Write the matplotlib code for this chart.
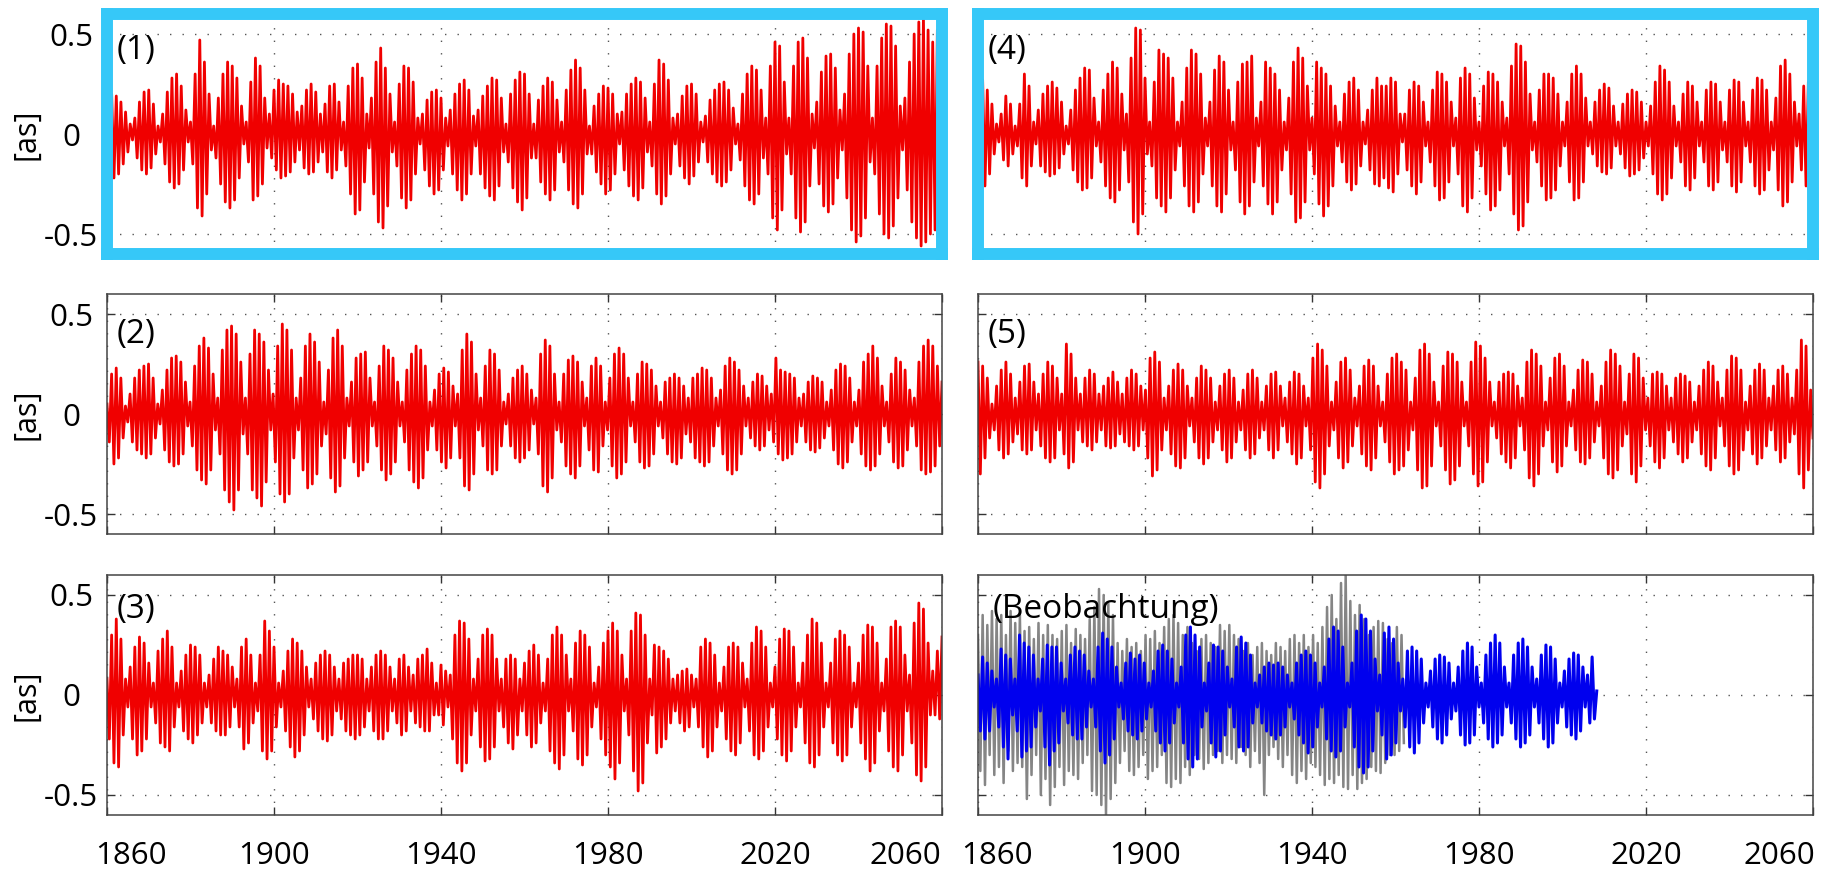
import numpy as np
import matplotlib.pyplot as plt
from matplotlib.transforms import ScaledTranslation

plt.rcParams['font.family'] = ['Open Sans', 'DejaVu Sans']

# successive extremes (peak / trough) of each series, in 0.01 arcsec
sig1 = [25, -21, 20, -22, 19, -20, 16, -15, 11, -9, 5,
        -3, 8, -12, 16, -18, 21, -20, 22, -17, 15, -10, 4,
        -4, 10, -15, 21, -24, 28, -27, 30, -25, 24, -18, 12, -4,
        6, -15, 30, -37, 47, -41, 36, -30, 20, -8,
        4, -12, 18, -25, 30, -34, 36, -37, 34, -33, 28, -22, 14, -5,
        6, -14, 26, -33, 38, -31, 34, -25, 18, -7,
        10, -12, 22, -18, 27, -22, 25, -21, 24, -19, 20, -14, 11,
        -8, 14, -17, 22, -20, 25, -19, 21, -14, 10,
        -9, 15, -19, 24, -22, 25, -18, 16, -8,
        6, -16, 24, -30, 33, -40, 35, -38, 28, -24, 10,
        -7, 18, -30, 36, -44, 43, -47, 33, -36, 20, -9,
        6, -16, 25, -32, 34, -37, 33, -33, 26, -20, 8,
        -5, 10, -18, 17, -26, 21, -30, 22, -28, 18, -18, 8,
        -6, 12, -20, 20, -28, 25, -33, 27, -30, 22, -20, 9,
        -6, 12, -20, 19, -27, 24, -31, 28, -33, 27, -26, 18, -9,
        5, -14, 20, -27, 27, -34, 31, -38, 30, -32, 20, -12,
        5, -12, 17, -24, 24, -30, 28, -33, 26, -28, 17, -9,
        6, -14, 22, -28, 32, -35, 37, -37, 33, -30, 22, -10,
        4, -10, 14, -19, 20, -25, 24, -30, 23, -28, 20, -20, 10,
        -5, 11, -18, 20, -26, 25, -31, 28, -33, 26, -27, 18, -9,
        6, -16, 25, -30, 37, -35, 35, -31, 27, -20, 8,
        -5, 10, -16, 19, -22, 24, -25, 25, -21, 20, -14, 6,
        -4, 9, -14, 17, -20, 22, -24, 25, -26, 26, -24, 22, -18, 13, -5,
        5, -13, 20, -26, 30, -33, 34, -35, 32, -30, 22, -12,
        8, -20, 34, -42, 46, -48, 44, -38, 26, -10,
        8, -20, 34, -42, 46, -49, 48, -44, 38, -26, 10,
        -7, 16, -25, 31, -36, 39, -39, 40, -35, 33, -22, 12,
        -8, 20, -32, 40, -48, 50, -54, 53, -51, 51, -42, 34, -14,
        8, -20, 34, -40, 48, -50, 55, -52, 54, -46, 44, -32, 14,
        -8, 18, -28, 36, -44, 50, -52, 56, -56, 58, -54, 52, -50, 46, -48, 52, -48, 50]

sig2 = [5, -14, 20, -25, 23, -22, 18, -12, 4,
        -4, 10, -14, 18, -18, 22, -20, 24, -22, 25, -20, 18, -12, 5,
        -5, 12, -18, 22, -24, 28, -26, 29, -25, 26, -20, 16, -6,
        6, -16, 24, -28, 34, -33, 38, -35, 33, -28, 20, -8,
        8, -20, 32, -38, 42, -44, 44, -48, 40, -38, 26, -10,
        8, -20, 30, -38, 42, -42, 40, -46, 36, -34, 22, -8,
        10, -24, 34, -40, 45, -44, 42, -40, 32, -22, 8,
        -8, 18, -28, 34, -37, 40, -35, 36, -30, 26, -16, 6,
        -10, 22, -32, 38, -39, 42, -36, 34, -22, 8,
        -6, 16, -24, 28, -31, 30, -28, 31, -24, 18, -6,
        6, -16, 24, -28, 34, -33, 32, -30, 28, -24, 16, -6,
        6, -14, 22, -28, 30, -34, 34, -37, 32, -32, 24, -18, 6,
        -6, 12, -18, 20, -24, 23, -27, 21, -22, 14, -6,
        10, -22, 32, -36, 40, -38, 36, -30, 20, -8,
        8, -16, 24, -28, 32, -30, 30, -28, 22, -16, 6,
        -5, 10, -16, 18, -22, 22, -24, 24, -22, 20, -18, 12, -5,
        8, -20, 30, -36, 37, -39, 34, -32, 20, -8,
        6, -14, 20, -26, 27, -30, 29, -32, 26, -26, 16, -6,
        8, -18, 24, -28, 28, -29, 24, -16, 6,
        -8, 18, -26, 30, -32, 33, -30, 30, -24, 18, -6,
        6, -14, 20, -24, 26, -27, 25, -26, 22, -20, 14, -6,
        6, -12, 16, -20, 18, -24, 20, -25, 18, -22, 14, -10,
        8, -14, 18, -22, 20, -24, 23, -26, 22, -24, 18, -16, 8,
        -6, 12, -20, 24, -28, 28, -30, 26, -28, 22, -20, 14, -6,
        8, -12, 16, -16, 20, -18, 19, -16, 14, -8,
        10, -14, 28, -20, 22, -23, 21, -22, 20, -20, 18, -14, 8,
        -6, 10, -14, 16, -18, 19, -19, 18, -17, 16, -12, 6,
        -6, 12, -18, 22, -25, 25, -27, 24, -24, 18, -14, 6,
        -6, 12, -20, 26, -26, 30, -28, 34, -26, 28, -20, 14, -6,
        6, -14, 20, -24, 28, -27, 26, -26, 22, -18, 12, -6,
        8, -16, 26, -28, 34, -30, 37, -29, 34, -26, 24, -16, 16]

sig3 = [8, -22, 30, -34, 38, -36, 28, -20, 8,
        -6, 14, -22, 24, -30, 29, -28, 26, -22, 16, -6,
        6, -14, 22, -24, 28, -26, 32, -28, 24, -16, 6,
        -6, 12, -18, 20, -22, 25, -24, 24, -20, 20, -14, 6,
        -6, 10, -14, 18, -18, 24, -20, 22, -20, 20, -16, 14, -6,
        8, -16, 24, -27, 28, -24, 20, -14, 6,
        -8, 20, -28, 37, -32, 32, -28, 24, -16, 6,
        -6, 12, -18, 22, -26, 28, -31, 26, -28, 22, -20, 14, -6,
        8, -12, 16, -18, 20, -22, 22, -23, 20, -20, 14, -8,
        8, -12, 16, -18, 18, -20, 20, -22, 20, -20, 18, -16, 8,
        -8, 14, -18, 20, -22, 22, -22, 20, -18, 14, -8,
        8, -14, 18, -20, 20, -18, 14, -8,
        10, -14, 18, -16, 20, -18, 23, -18, 16, -10,
        6, -10, 15, -15, 12, -6,
        10, -22, 30, -34, 37, -38, 36, -34, 28, -20, 8,
        -8, 18, -26, 30, -33, 33, -32, 30, -26, 18, -8,
        8, -16, 18, -24, 20, -27, 18, -20, 8,
        -8, 16, -20, 22, -26, 25, -24, 20, -14, 6,
        -8, 18, -28, 30, -34, 34, -37, 30, -30, 20, -8,
        8, -18, 26, -32, 32, -35, 30, -30, 24, -16, 6,
        -6, 14, -22, 26, -30, 32, -36, 36, -42, 32, -34, 20, -8,
        8, -20, 32, -38, 41, -48, 40, -44, 30, -24, 8,
        -10, 25, -29, 24, -26, 22, -22, 18, -14, 8,
        -8, 10, -14, 12, -18, 13, -16, 10, -6,
        8, -16, 24, -26, 28, -31, 26, -28, 20, -16, 6,
        -8, 14, -22, 24, -28, 26, -30, 24, -24, 16, -6,
        8, -18, 26, -30, 34, -32, 32, -28, 24, -16, 6,
        -6, 14, -22, 28, -30, 33, -33, 32, -28, 24, -16, 6,
        -6, 16, -24, 30, -34, 38, -36, 36, -30, 26, -16, 6,
        -6, 16, -24, 28, -30, 32, -33, 30, -30, 24, -16, 6,
        -6, 16, -24, 30, -32, 35, -38, 34, -34, 26, -18, 6,
        -8, 18, -28, 34, -36, 37, -38, 34, -30, 20, -8,
        10, -24, 36, -40, 46, -43, 43, -36, 26, -10,
        12, -10, 22, -12, 29]

sig4 = [28, -29, 27, -26, 22, -20, 15, -10, 5,
        -4, 10, -13, 19, -16, 15, -10, 4,
        -6, 15, -22, 30, -26, 24, -16, 6,
        -5, 12, -16, 20, -19, 24, -21, 26, -20, 23, -17, 16, -10, 4,
        -5, 12, -18, 22, -24, 28, -28, 33, -27, 32, -22, 18, -6,
        6, -14, 22, -26, 30, -32, 36, -34, 33, -28, 20, -8,
        10, -24, 38, -44, 53, -50, 52, -40, 28, -10,
        6, -16, 26, -32, 42, -36, 40, -39, 38, -32, 28, -18, 6,
        -6, 16, -26, 33, -36, 42, -39, 40, -34, 30, -20, 8,
        -6, 16, -26, 32, -36, 39, -39, 36, -30, 22, -8,
        6, -18, 26, -34, 35, -40, 36, -36, 39, -24, 8,
        -6, 16, -26, 36, -35, 33, -40, 30, -34, 22, -18, 6,
        -8, 18, -30, 36, -44, 43, -42, 38, -34, 24, -8,
        8, -20, 36, -35, 33, -41, 30, -36, 24, -26, 14, -6,
        6, -14, 20, -24, 26, -28, 28, -25, 22, -16, 6,
        -5, 12, -18, 22, -25, 28, -26, 24, -22, 24, -27, 28, -29, 26, -20, 10,
        -4, 10, -18, 22, -26, 26, -30, 24, -24, 16, -6,
        6, -14, 22, -26, 31, -33, 30, -32, 26, -24, 16, -6,
        8, -20, 28, -36, 33, -39, 30, -32, 18, -8,
        6, -16, 24, -30, 31, -38, 30, -36, 26, -28, 16, -6,
        8, -20, 34, -40, 45, -48, 44, -46, 36, -34, 20, -8,
        6, -14, 22, -26, 30, -33, 30, -32, 28, -28, 20, -16, 6,
        -6, 16, -24, 30, -33, 34, -32, 30, -24, 18, -6,
        6, -10, 16, -16, 22, -19, 25, -20, 23, -17, 14, -6,
        6, -10, 15, -17, 20, -21, 22, -20, 21, -18, 16, -12, 6,
        -6, 14, -20, 26, -30, 34, -33, 32, -30, 26, -22, 14, -6,
        6, -14, 20, -26, 26, -28, 24, -22, 16, -6,
        6, -14, 22, -26, 26, -28, 25, -24, 16, -8,
        6, -14, 22, -26, 27, -29, 26, -24, 16, -6,
        6, -14, 22, -26, 28, -30, 27, -28, 22, -18, 6,
        -8, 18, -28, 34, -36, 37, -34, 30, -24, 16, -6,
        10, -18, 24, -26, 26, -29, 44]

sig5 = [26, -30, 24, -22, 18, -12, 5,
        -8, 14, -18, 22, -22, 26, -20, 20, -14, 8,
        -10, 16, -18, 24, -20, 25, -18, 16, -8,
        10, -16, 20, -22, 26, -24, 24, -22, 18, -8,
        10, -20, 35, -27, 30, -24, 18, -8,
        10, -14, 18, -16, 22, -18, 20, -14, 10,
        -8, 14, -16, 18, -17, 21, -16, 16, -10,
        10, -14, 18, -16, 22, -18, 20, -16, 14, -8,
        12, -22, 28, -31, 31, -28, 26, -18, 8,
        -8, 14, -20, 22, -26, 25, -27, 22, -22, 14, -6,
        8, -14, 18, -22, 24, -25, 22, -22, 18, -14, 6,
        -8, 14, -18, 20, -24, 22, -22, 18, -14, 6,
        -8, 12, -18, 20, -22, 22, -20, 18, -12, 6,
        -8, 14, -18, 20, -22, 21, -18, 14, -6,
        8, -14, 16, -20, 21, -25, 20, -22, 14, -6,
        8, -18, 28, -34, 35, -37, 32, -30, 24, -16, 6,
        -8, 16, -22, 26, -27, 28, -24, 22, -16, 8,
        -6, 14, -20, 24, -26, 27, -28, 24, -22, 14, -6,
        6, -14, 20, -24, 28, -30, 30, -28, 26, -26, 22, -18, 6,
        -8, 18, -28, 32, -37, 35, -36, 30, -26, 16, -6,
        6, -16, 24, -28, 31, -35, 30, -33, 26, -26, 16, -6,
        6, -16, 26, -30, 36, -36, 34, -34, 28, -24, 16, -6,
        6, -12, 16, -20, 20, -24, 21, -27, 20, -22, 14, -6,
        8, -18, 26, -32, 32, -36, 30, -30, 24, -16, 6,
        -8, 18, -24, 28, -29, 30, -26, 24, -16, 6,
        -6, 12, -18, 22, -24, 27, -25, 26, -22, 20, -14, 6,
        -6, 14, -22, 26, -30, 32, -32, 30, -28, 24, -16, 6,
        -10, 20, -30, 30, -34, 28, -26, 18, -8,
        8, -16, 20, -24, 21, -27, 20, -22, 14, -8,
        8, -14, 18, -20, 20, -24, 19, -22, 16, -14, 6,
        -8, 14, -20, 22, -26, 26, -28, 24, -22, 16, -6,
        8, -16, 22, -26, 29, -30, 28, -28, 22, -18, 6,
        -8, 14, -20, 22, -25, 25, -22, 22, -16, 8,
        -8, 14, -18, 22, -24, 24, -22, 20, -14, 8,
        -10, 22, -30, 37, -37, 34, -28, 12, -12]

# observation: raw series (grey) and filtered series (blue)
obs_raw = [30, -38, 40, -45, 35, -30, 42, -40, 38, -36, 40, -44, 30, -28, 42, -38, 36, -34,
           40, -36, 32, -52, 34, -40, 28, -30, 36, -50, 30, -42, 35, -55, 30, -46, 28, -36,
           32, -45, 35, -38, 26, -40, 33, -42, 30, -34, 28, -30, 38, -48, 44, -50, 53, -55,
           50, -60, 46, -52, 40, -44, 26, -34, 22, -28, 28, -38, 24, -40, 26, -36, 22, -30,
           30, -42, 28, -38, 32, -36, 26, -30, 34, -44, 38, -46, 40, -42, 36, -44, 30, -36,
           34, -40, 26, -30, 22, -32, 28, -37, 30, -34, 26, -30, 24, -28, 35, -34, 32, -30,
           35, -32, 30, -34, 28, -26, 22, -30, 26, -36, 20, -28, 24, -34, 26, -50, 22, -30,
           20, -26, 26, -32, 24, -36, 22, -30, 28, -40, 30, -44, 26, -38, 30, -42, 24, -34,
           30, -36, 26, -40, 34, -45, 44, -42, 50, -44, 38, -40, 56, -46, 60, -47, 47, -40,
           40, -47, 45, -44, 38, -42, 30, -36, 34, -38, 37, -39, 36, -34, 28, -30, 26, -30,
           34, -28, 30, -24]

obs_fit = [10, -18, 19, -22, 16, -18, 12, -6,
           8, -16, 23, -26, 20, -32, 18, -10,
           8, -18, 30, -31, 26, -28, 24, -26, 20, -16, 8,
           -8, 18, -26, 25, -35, 24, -28, 24, -24, 16, -8,
           8, -14, 20, -20, 24, -22, 22, -22, 20, -16, 12, -6,
           8, -16, 24, -28, 31, -34, 28, -30, 24, -22, 14, -6,
           6, -12, 16, -18, 21, -20, 18, -22, 20, -18, 16, -12, 6,
           -6, 12, -18, 22, -24, 25, -28, 22, -24, 18, -14, 6,
           -6, 14, -24, 30, -32, 34, -36, 30, -32, 24, -16, 6,
           -8, 16, -24, 25, -31, 24, -28, 22, -20, 14, -6,
           8, -16, 24, -26, 29, -28, 26, -26, 20, -14, 6,
           -6, 10, -14, 14, -18, 16, -20, 15, -22, 16, -20, 14, -16, 10, -6,
           6, -12, 16, -20, 20, -24, 22, -29, 20, -26, 16, -16, 6,
           -6, 14, -22, 28, -28, 34, -31, 32, -28, 24, -16, 6,
           -6, 16, -26, 32, -36, 40, -39, 38, -36, 32, -28, 18, -8,
           10, -20, 31, -32, 34, -30, 28, -24, 16, -8,
           8, -16, 22, -26, 24, -29, 22, -24, 18, -14, 6,
           -6, 12, -16, 18, -22, 20, -24, 19, -20, 16, -12, 6,
           -8, 14, -20, 22, -25, 26, -24, 24, -20, 14, -6,
           6, -14, 20, -22, 26, -26, 30, -24, 26, -20, 14, -6,
           6, -14, 20, -22, 26, -26, 28, -24, 24, -20, 14, -6,
           8, -14, 20, -22, 25, -26, 24, -24, 18, -14, 6,
           -6, 12, -16, 18, -20, 21, -22, 20, -18, 14, -6,
           10, -14, 19, -12, 2]

model_span = (1860, 2060)
raw_span = (1860, 1962)
fit_span = (1860, 2008.2)

xticks = [1860, 1900, 1940, 1980, 2020, 2060]
xtick_labels = ['1860', '1900', '1940', '1980', '2020', '2060']
yticks = [-0.5, 0, 0.5]
ytick_labels = ['-0.5', '0', '0.5']
panel_names = ['(1)', '(2)', '(3)', '(4)', '(5)', '(Beobachtung)']

fig = plt.figure(figsize=(18.31, 8.73), dpi=100)
W, H = 1831, 873
col_x = [107, 978]
row_top = [14, 294, 575]
ax_w, ax_h = 835, 240
name_y = [0.846, 0.833, 0.858]
edge_shift = [(24, -37), (19, -34)]  # px shift of first / last year label
frame_blue = '#36c8f8'

models = [sig1, sig2, sig3, sig4, sig5]

for col in range(2):
    for row in range(3):
        k = col * 3 + row
        ax = fig.add_axes([col_x[col] / W, 1 - (row_top[row] + ax_h) / H, ax_w / W, ax_h / H])

        if k < 5:
            vals = np.array(models[k]) / 100
            ax.plot(np.linspace(*model_span, len(vals)), vals, color='#f00000', lw=2.0)
        else:
            raw = np.array(obs_raw) / 100
            fit = np.array(obs_fit) / 100
            ax.plot(np.linspace(*raw_span, len(raw)), raw, color='#858585', lw=1.8)
            ax.plot(np.linspace(*fit_span, len(fit)), fit, color='#0000ee', lw=2.2)

        ax.set_xlim(*model_span)
        ax.set_ylim(-0.6, 0.6)
        ax.set_xticks(xticks)
        ax.set_yticks(yticks)
        ax.grid(True, linestyle=(0, (1, 8)), color='#555555', lw=1)

        top_row = row == 0
        ax.tick_params(direction='in', top=True, right=True, length=0 if top_row else 6,
                       width=1, color='#333333', labelsize=22.5, labelcolor='black')
        ax.tick_params(axis='x', pad=19)
        ax.tick_params(axis='y', pad=26)

        for sp in ax.spines.values():
            if top_row:
                sp.set_color(frame_blue)
                sp.set_linewidth(8.6)
            else:
                sp.set_color('#444444')
                sp.set_linewidth(1.1)

        if col == 0:
            ax.set_yticklabels(ytick_labels)
            for lbl in ax.get_yticklabels():
                lbl.set_horizontalalignment('center')
            ax.set_ylabel('[as]', fontsize=22)
            ax.yaxis.set_label_coords(-0.078, 0.5)
        else:
            ax.tick_params(labelleft=False)

        if row == 2:
            ax.set_xticklabels(xtick_labels)
            lbls = ax.get_xticklabels()
            for lbl, dx in ((lbls[0], edge_shift[col][0]), (lbls[-1], edge_shift[col][1])):
                lbl.set_transform(lbl.get_transform() +
                                  ScaledTranslation(dx / 100, 0, fig.dpi_scale_trans))
        else:
            ax.tick_params(labelbottom=False)

        ax.text(0.012 if k < 5 else 0.018, name_y[row], panel_names[k], transform=ax.transAxes,
                fontsize=24, ha='left', va='center', zorder=6)

fig.savefig('out.png', dpi=100, facecolor='white')
